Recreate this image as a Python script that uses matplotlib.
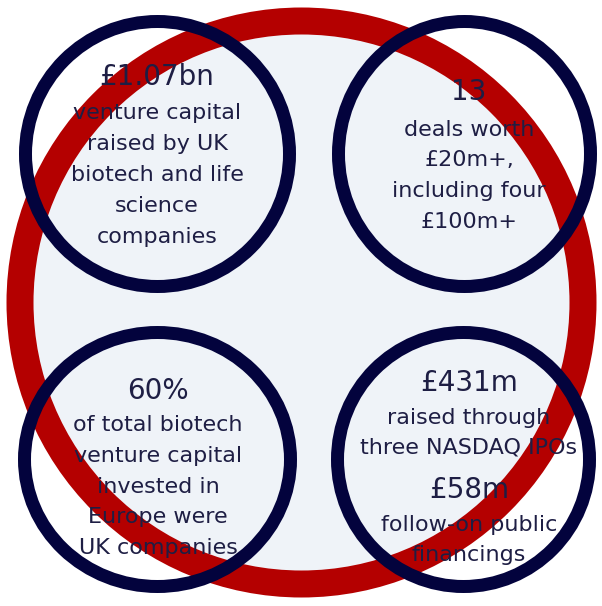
import matplotlib
matplotlib.use("Agg")
import matplotlib.pyplot as plt
from matplotlib.patches import Ellipse

# ---- content ----
headlines = ["£1.07bn", "13", "60%", "£431m"]
descriptions = [
    ["venture capital", "raised by UK", "biotech and life", "science", "companies"],
    ["deals worth", "£20m+,", "including four", "£100m+"],
    ["of total biotech", "venture capital", "invested in", "Europe were", "UK companies"],
    ["raised through", "three NASDAQ IPOs"],
]
extra_headline = "£58m"
extra_description = ["follow-on public", "financings"]

# ---- layout (pixel coordinates, y downward) ----
W, H = 602, 606
NAVY = "#03033d"
RED = "#b40000"
FILL = "#eff3f8"
TEXT = "#1e1e44"
PX = 72 / 100.0  # points per pixel at dpi 100

fig = plt.figure(figsize=(W / 100, H / 100), dpi=100)
ax = fig.add_axes([0, 0, 1, 1])
ax.set_xlim(0, W)
ax.set_ylim(H, 0)
ax.axis("off")

# big red ring with light fill
ax.add_patch(Ellipse((301.5, 302.5), 563, 563, facecolor=FILL, edgecolor=RED,
                     linewidth=27 * PX, zorder=1))

# four navy circles
circles = [((157.5, 154), 264, 265), ((464.5, 154), 252, 265),
           ((157.5, 459.5), 266, 254), ((463.5, 459.5), 252, 254)]
for (c, w, h) in circles:
    ax.add_patch(Ellipse(c, w, h, facecolor="none", edgecolor=NAVY,
                         linewidth=13 * PX, zorder=2))

font = ["DejaVu Sans"]
HEAD_SIZE = 20
BODY_SIZE = 16

head_pos = [(157, 77), (469, 92), (158, 391), (469, 383)]
body_start = [113, 130, 425, 418]
line_step = [31, 30.5, 30.8, 30]

for i, (hl, desc) in enumerate(zip(headlines, descriptions)):
    x, y = head_pos[i]
    ax.text(x, y, hl, ha="center", va="center", fontsize=HEAD_SIZE,
            color=TEXT, family=font, zorder=3)
    for j, line in enumerate(desc):
        ax.text(x, body_start[i] + j * line_step[i], line, ha="center",
                va="center", fontsize=BODY_SIZE, color=TEXT, family=font, zorder=3)

ax.text(469, 490, extra_headline, ha="center", va="center", fontsize=HEAD_SIZE,
        color=TEXT, family=font, zorder=3)
for j, line in enumerate(extra_description):
    ax.text(469, 525 + j * 30, line, ha="center", va="center", fontsize=BODY_SIZE,
            color=TEXT, family=font, zorder=3)

fig.savefig("out.png", dpi=100, facecolor="white")
